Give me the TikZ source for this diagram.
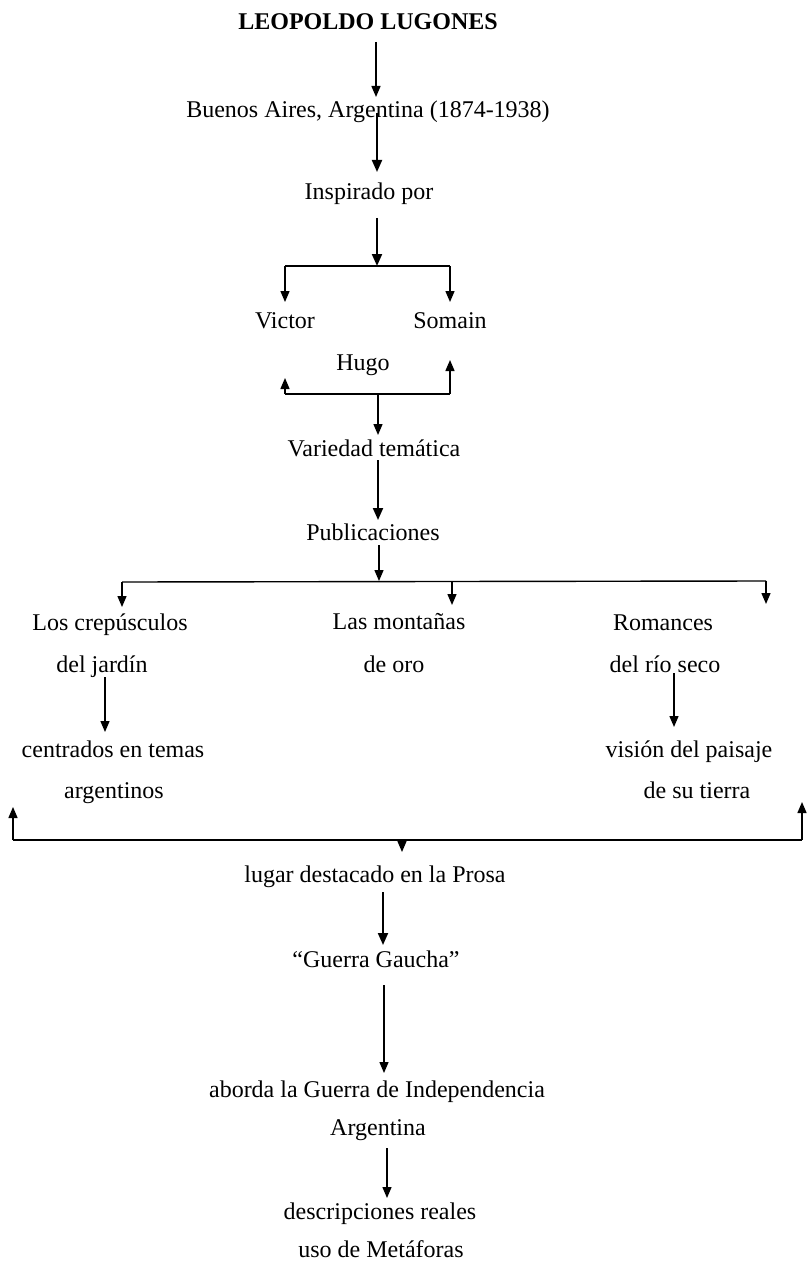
\documentclass[tikz,border=0pt]{standalone}
\usepackage{fontspec}
\setmainfont{Liberation Serif}
\usetikzlibrary{arrows.meta}
\begin{document}
\begin{tikzpicture}[x=1pt,y=-1pt,
  txt/.style={anchor=base,inner sep=0pt,font=\fontsize{24}{28}\selectfont},
  arr/.style={line width=1.4pt,-{Triangle[length=11pt,width=9pt]}},
  thick arr/.style={line width=2pt,-{Triangle[length=12pt,width=10pt]}},
  ln/.style={line width=1.4pt}]
\useasboundingbox[fill=white] (0,0) rectangle (807,1265);
% text nodes
\node[txt,font=\fontsize{24}{28}\selectfont\bfseries] (title) at (368,30) {LEOPOLDO LUGONES};
\node[txt] (buenos) at (368,118) {Buenos Aires, Argentina (1874-1938)};
\node[txt] (insp) at (369,200) {Inspirado por};
\node[txt] (victor) at (285,328) {Victor};
\node[txt] (somain) at (450,328) {Somain};
\node[txt] (hugo) at (363,370) {Hugo};
\node[txt] (variedad) at (374,456) {Variedad temática};
\node[txt] (publ) at (373,540) {Publicaciones};
\node[txt] (crep) at (110,630) {Los crepúsculos};
\node[txt] (jardin) at (102,672) {del jardín};
\node[txt] (mont) at (399,629) {Las montañas};
\node[txt] (oro) at (394,672) {de oro};
\node[txt] (rom) at (663,630) {Romances};
\node[txt] (rio) at (665,672) {del río seco};
\node[txt] (centr) at (113,757) {centrados en temas};
\node[txt] (argent) at (114,798) {argentinos};
\node[txt] (vision) at (689,757) {visión del paisaje};
\node[txt] (tierra) at (697,798) {de su tierra};
\node[txt] (lugar) at (375,882) {lugar destacado en la Prosa};
\node[txt] (gaucha) at (376,967) {“Guerra Gaucha”};
\node[txt] (aborda) at (377,1097) {aborda la Guerra de Independencia};
\node[txt] (argentina) at (378,1135) {Argentina};
\node[txt] (descr) at (380,1219) {descripciones reales};
\node[txt] (uso) at (381,1257) {uso de Metáforas};
% connector end points
\coordinate (t1) at (376,42);   \coordinate (b1) at (376,97);
\coordinate (t2) at (377,113);  \coordinate (b2) at (377,172);
\coordinate (t3) at (377,218);  \coordinate (j3) at (377,266);
\coordinate (l3) at (285,266);  \coordinate (r3) at (450,266);
\coordinate (vt) at (285,302);  \coordinate (st) at (450,302);
\coordinate (l4) at (285,394);  \coordinate (r4) at (450,394);
\coordinate (vb) at (285,378);  \coordinate (sb) at (450,360);
\coordinate (j4) at (378,394);  \coordinate (b4) at (378,435);
\coordinate (t5) at (378,460);  \coordinate (b5) at (378,520);
\coordinate (t6) at (379,545);  \coordinate (j6) at (379,581);
\coordinate (l6) at (122,582);  \coordinate (r6) at (766,581);
\coordinate (m6) at (452,582);
\coordinate (lt6) at (122,607); \coordinate (mt6) at (452,605); \coordinate (rt6) at (766,604);
\coordinate (t7) at (105,677);  \coordinate (b7) at (105,732);
\coordinate (t8) at (674,673);  \coordinate (b8) at (674,727);
\coordinate (l9) at (13,840);   \coordinate (r9) at (802,840);
\coordinate (lt9) at (13,807);  \coordinate (rt9) at (802,802);
\coordinate (j9) at (402,840);  \coordinate (b9) at (402,852);
\coordinate (t10) at (383,892); \coordinate (b10) at (383,945);
\coordinate (t11) at (384,985); \coordinate (b11) at (384,1073);
\coordinate (t12) at (387,1148);\coordinate (b12) at (387,1198);
% connectors
\draw[arr] (t1) -- (b1);
\draw[thick arr] (t2) -- (b2);
\draw[thick arr] (t3) -- (j3);
\draw[ln] (l3) -- (r3);
\draw[arr] (l3) -- (vt);
\draw[arr] (r3) -- (st);
\draw[arr] (l4) -- (vb);
\draw[arr] (r4) -- (sb);
\draw[ln] (l4) -- (r4);
\draw[arr] (j4) -- (b4);
\draw[thick arr] (t5) -- (b5);
\draw[arr] (t6) -- (j6);
\draw[ln] (l6) -- (r6);
\draw[arr] (l6) -- (lt6);
\draw[arr] (m6) -- (mt6);
\draw[arr] (r6) -- (rt6);
\draw[arr] (t7) -- (b7);
\draw[arr] (t8) -- (b8);
\draw[ln] (l9) -- (r9);
\draw[arr] (l9) -- (lt9);
\draw[arr] (r9) -- (rt9);
\draw[arr,shorten <=-1pt] (j9) -- (b9);
\draw[thick arr] (t10) -- (b10);
\draw[arr] (t11) -- (b11);
\draw[arr] (t12) -- (b12);
\end{tikzpicture}
\end{document}
